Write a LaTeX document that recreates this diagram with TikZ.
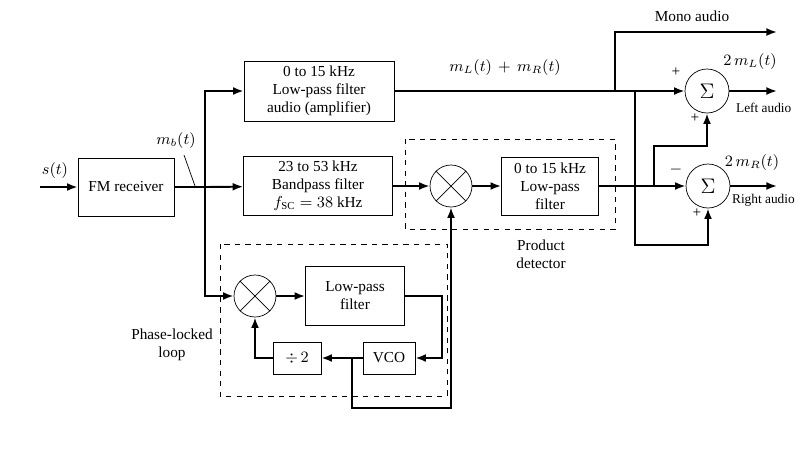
\documentclass[tikz,border=0pt]{standalone}
\usepackage{fontspec}
\setmainfont{Liberation Serif}
\usetikzlibrary{arrows.meta, calc, positioning}

\begin{document}
\begin{tikzpicture}[
x={(0.02 cm, 0 cm)}, y={(0 cm, -0.02 cm)},
% #region Picture settings %
font=\fontsize{8.7}{10.2}\selectfont,
blk/.style={draw, thin, align=center, inner sep=0pt},
mix/.style={draw, circle, minimum size=0.84cm, inner sep=0pt},
sumn/.style={draw, circle, minimum size=0.88cm, inner sep=0pt, font=\large},
ev/.style={-{Latex[length=6pt, width=4.5pt]}, line width=1.1pt},
ln/.style={line width=1.1pt},
grp/.style={draw, dashed, thin},
outlab/.style={anchor=west, inner sep=1pt, font=\fontsize{7.6}{9}\selectfont},
% #endregion Picture settings %
]
\useasboundingbox (0,0) rectangle (795,451);

% blocks
\node[blk, minimum width=1.92cm, minimum height=1.16cm] (fm) at (126,187) {FM receiver};
\node[blk, minimum width=3cm, minimum height=1.2cm] (lpa) at (319,91) {0 to 15 kHz\\Low-pass filter\\audio (amplifier)};
\node[blk, minimum width=2.98cm, minimum height=1.18cm] (bpf) at (318,186) {23 to 53 kHz\\Bandpass filter\\$f_{\mathrm{SC}} = 38$ kHz};
\node[mix] (mx1) at (451,186) {};
\node[blk, minimum width=1.94cm, minimum height=1.16cm] (lpf) at (550,186) {0 to 15 kHz\\Low-pass\\filter};
\node[sumn] (sumL) at (707,91) {$\Sigma$};
\node[sumn] (sumR) at (708,186) {$\Sigma$};

\node[mix] (mx2) at (255,296) {};
\node[blk, minimum width=1.98cm, minimum height=1.18cm] (lpp) at (355,296) {Low-pass\\filter};
\node[blk, minimum width=1.04cm, minimum height=0.64cm] (vco) at (389,358) {VCO};
\node[blk, minimum width=0.96cm, minimum height=0.64cm] (div) at (297,358) {$\div\,2$};

\foreach \m in {mx1, mx2} {
  \draw (\m.north west) -- (\m.south east);
  \draw (\m.north east) -- (\m.south west);
}

% dashed groups
\draw[grp] (405,139) rectangle (615,229);
\draw[grp] (220,244) rectangle (447,396);
\node[align=center] (pdlab) at (541,254) {Product\\detector};
\node[align=center] (plllab) at (172,345) {Phase-locked\\loop};

% input side
\coordinate (in) at (40,187);
\coordinate (bus) at (205,187);
\draw[ev] (in) -- (fm);
\node (slab) at (55,171) {$s(t)$};
\draw[ln] (fm) -- (bus);
\draw[ev] (bus) -- (bpf);
\draw[ev] (bus) |- (lpa);
\draw[ev] (bus) |- (mx2);
\node (mblab) at (176,141) {$m_b(t)$};
\draw[thin] (184,155) -- (195,186);

% stereo path
\draw[ev] (bpf) -- (mx1);
\draw[ev] (mx1) -- (lpf);
\draw[ev] (lpf) -- (sumR);
\draw[ev] (lpa) -- (sumL);
\node (sumlab) at (505,68) {$m_L(t)\, +\, m_R(t)$};

% mono output
\coordinate (tapM) at (615,91);
\coordinate (mono) at (777,32);
\draw[ev] (tapM) |- (mono);
\node (monolab) at (692,16) {Mono audio};

% cross connections
\coordinate (tapA) at (635,91);
\coordinate (rb) at (635,245);
\draw[ev] (tapA) -- (rb) -| (sumR.south);
\coordinate (tapB) at (654,186);
\coordinate (lb) at (654,146);
\draw[ev] (tapB) -- (lb) -| (sumL.south);

% outputs
\coordinate (outL) at (777,91);
\coordinate (outR) at (777,186);
\draw[ev] (sumL) -- (outL);
\draw[ev] (sumR) -- (outR);
\node (mllab) at (750,62) {$2\, m_L(t)$};
\node[outlab] (leftlab) at (734,108) {Left audio};
\node (mrlab) at (752,163) {$2\, m_R(t)$};
\node[outlab] (rightlab) at (730,200) {Right audio};

% signs
\node (pa) at (676,72) {+};
\node (pb) at (695,118) {+};
\node (pc) at (676,170) {$-$};
\node (pd) at (697,213) {+};

% loop
\coordinate (c1) at (442,296);
\draw[ev] (mx2) -- (lpp);
\draw[ev] (lpp.east) -- (c1) |- (vco.east);
\draw[ev] (vco) -- (div);
\draw[ev] (div.west) -| (mx2.south);
\coordinate (tapV) at (352,358);
\coordinate (vb) at (352,408);
\draw[ev] (tapV) -- (vb) -| (mx1.south);

\end{tikzpicture}
\end{document}
